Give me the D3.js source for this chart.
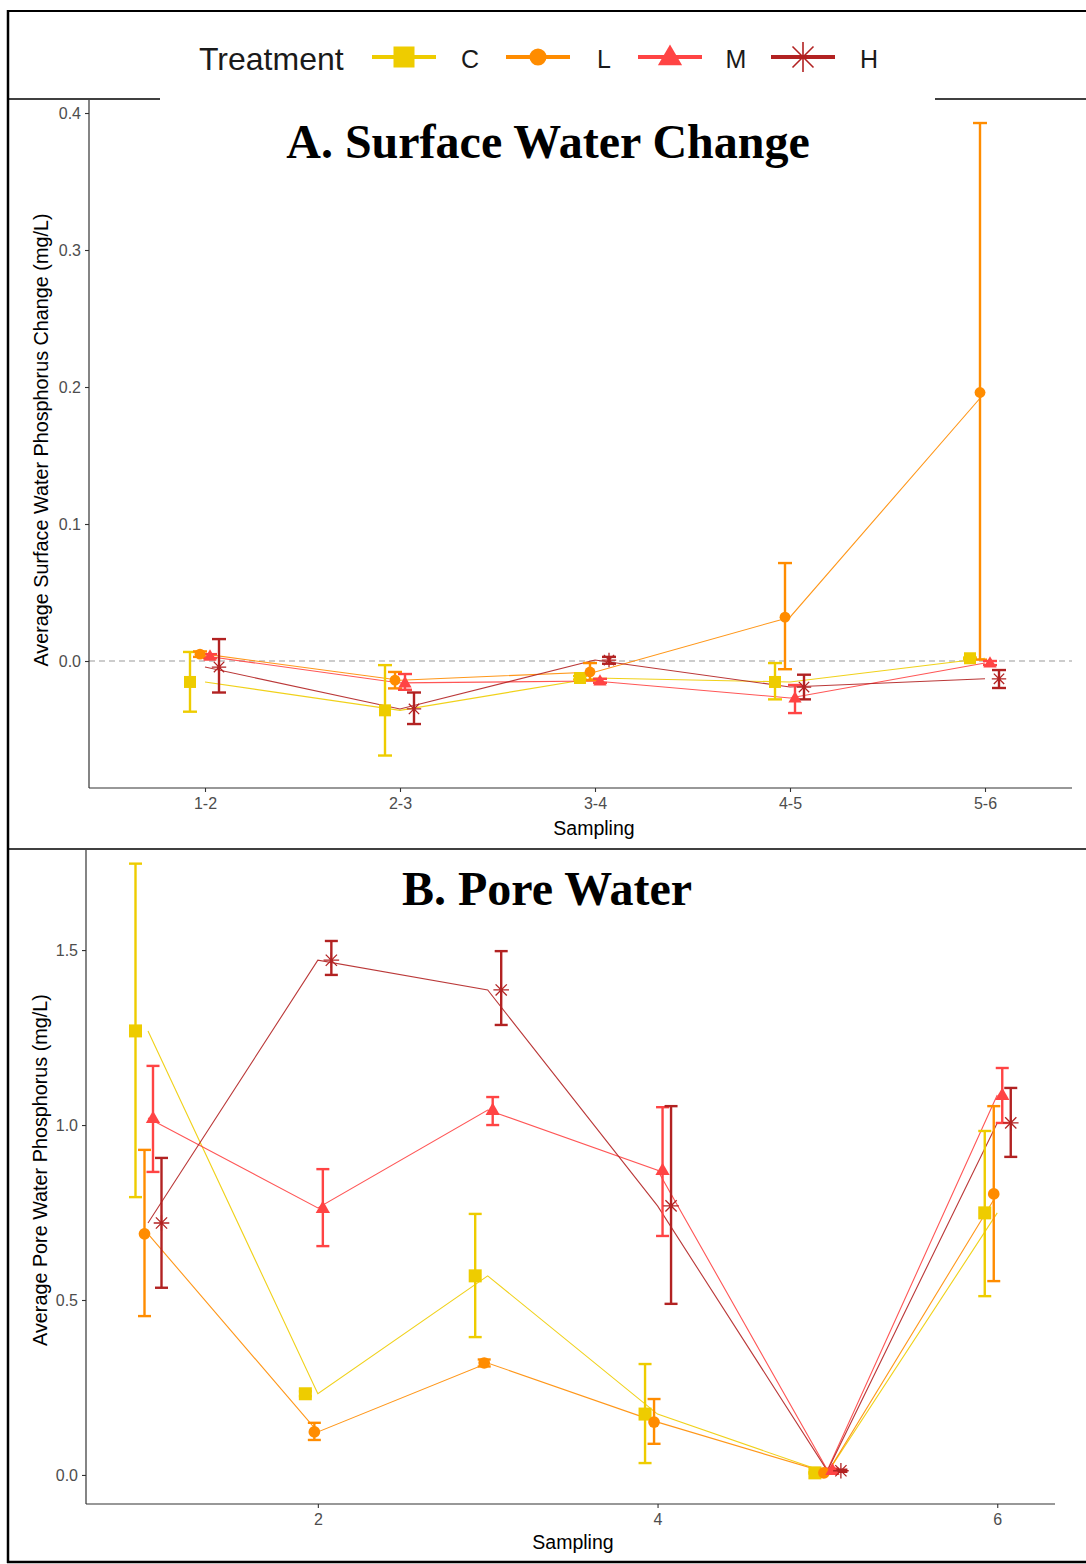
<!DOCTYPE html>
<html>
<head>
<meta charset="utf-8">
<script src="https://cdn.jsdelivr.net/npm/d3@7"></script>
<style>
  body { margin: 0; background: #fff; }
  text { font-family: "Liberation Sans", Arial, sans-serif; }
</style>
</head>
<body>
<div id="chart"></div>
<script>
// treatments and colours
const treatments = ["C", "L", "M", "H"];

// A. surface water change (mg/L), per sampling interval
const samplingA = ["1-2", "2-3", "3-4", "4-5", "5-6"];
const surfC    = [-0.0153, -0.036, -0.0124, -0.0153, 0.002];
const surfC_lo = [-0.037, -0.069, -0.0135, -0.028, 0.0015];
const surfC_hi = [0.0066, -0.003, -0.011, -0.0015, 0.0025];
const surfL    = [0.005, -0.014, -0.008, 0.032, 0.196];
const surfL_lo = [0.003, -0.020, -0.014, -0.006, 0.001];
const surfL_hi = [0.007, -0.008, -0.0015, 0.0715, 0.3927];
const surfM    = [0.0036, -0.016, -0.0146, -0.027, -0.0015];
const surfM_lo = [0.002, -0.021, -0.016, -0.038, -0.003];
const surfM_hi = [0.005, -0.0095, -0.013, -0.0175, 0.0];
const surfH    = [-0.0044, -0.035, 0.0007, -0.019, -0.013];
const surfH_lo = [-0.023, -0.046, -0.002, -0.028, -0.0197];
const surfH_hi = [0.016, -0.023, 0.003, -0.010, -0.0066];

// B. pore water phosphorus (mg/L), per sampling
const samplingB = [1, 2, 3, 4, 5, 6];
const poreC    = [1.269, 0.232, 0.569, 0.174, 0.006, 0.749];
const poreC_lo = [0.794, 0.225, 0.394, 0.034, 0.004, 0.511];
const poreC_hi = [1.747, 0.239, 0.746, 0.317, 0.008, 0.983];
const poreL    = [0.689, 0.123, 0.320, 0.151, 0.006, 0.803];
const poreL_lo = [0.454, 0.100, 0.310, 0.089, 0.004, 0.554];
const poreL_hi = [0.929, 0.149, 0.330, 0.217, 0.008, 1.054];
const poreM    = [1.020, 0.763, 1.043, 0.871, 0.014, 1.086];
const poreM_lo = [0.866, 0.654, 1.000, 0.683, 0.010, 1.006];
const poreM_hi = [1.169, 0.874, 1.080, 1.051, 0.018, 1.163];
const poreH    = [0.720, 1.471, 1.386, 0.769, 0.012, 1.006];
const poreH_lo = [0.535, 1.429, 1.286, 0.489, 0.009, 0.909];
const poreH_hi = [0.906, 1.526, 1.497, 1.054, 0.015, 1.106];

const yTicksA = [0, 0.1, 0.2, 0.3, 0.4];
const yTicksB = [0, 0.5, 1.0, 1.5];
const xTicksB = [2, 4, 6];

const color = { C: "#eecc00", L: "#ff8c00", M: "#ff4444", H: "#b22222" };

function makeSeries(x, means, los, his) {
  return treatments.map((t, k) => ({
    key: t,
    pts: x.map((v, i) => ({ x: v, y: means[k][i], lo: los[k][i], hi: his[k][i] }))
  }));
}
const seriesA = makeSeries(samplingA, [surfC, surfL, surfM, surfH],
  [surfC_lo, surfL_lo, surfM_lo, surfH_lo], [surfC_hi, surfL_hi, surfM_hi, surfH_hi]);
const seriesB = makeSeries(samplingB, [poreC, poreL, poreM, poreH],
  [poreC_lo, poreL_lo, poreM_lo, poreH_lo], [poreC_hi, poreL_hi, poreM_hi, poreH_hi]);

const W = 1086, H = 1564;
const svg = d3.select("#chart").append("svg").attr("width", W).attr("height", H);

// marker drawing (ggplot shapes 15, 16, 17, 8)
function marker(g, key, cx, cy, s) {
  const c = color[key];
  if (key === "C") {
    g.append("rect").attr("x", cx - s / 2).attr("y", cy - s / 2)
      .attr("width", s).attr("height", s).attr("fill", c);
  } else if (key === "L") {
    g.append("circle").attr("cx", cx).attr("cy", cy).attr("r", s * 0.45).attr("fill", c);
  } else if (key === "M") {
    const h = s * 0.95, w = s * 1.1;
    g.append("path").attr("d", `M${cx},${cy - h * 0.6}L${cx + w / 2},${cy + h * 0.4}L${cx - w / 2},${cy + h * 0.4}Z`)
      .attr("fill", c);
  } else {
    const r = s * 0.6, d = r * 0.72;
    g.append("path")
      .attr("d", `M${cx - r},${cy}H${cx + r}M${cx},${cy - r}V${cy + r}M${cx - d},${cy - d}L${cx + d},${cy + d}M${cx - d},${cy + d}L${cx + d},${cy - d}`)
      .attr("stroke", c).attr("stroke-width", 1.3).attr("fill", "none");
  }
}

function drawPanel(opt) {
  const { x, y, series, dodge, cap, size, xLeft, xRight, yTop, yBottom } = opt;
  const g = svg.append("g");

  if (opt.zeroLine) {
    g.append("line").attr("x1", xLeft).attr("x2", xRight)
      .attr("y1", y(0)).attr("y2", y(0))
      .attr("stroke", "#9a9a9a").attr("stroke-width", 1.1).attr("stroke-dasharray", "6,4");
  }

  // connecting lines (not dodged)
  const line = d3.line().x(d => x(d.x)).y(d => y(d.y));
  series.forEach(s => {
    g.append("path").datum(s.pts).attr("d", line)
      .attr("fill", "none").attr("stroke", color[s.key]).attr("stroke-width", 1.1).attr("opacity", 0.9);
  });

  // error bars (dodged)
  series.forEach((s, k) => {
    const off = dodge[k];
    s.pts.forEach(p => {
      const cx = x(p.x) + off;
      const eg = g.append("g").attr("stroke", color[s.key]).attr("stroke-width", 2.4);
      eg.append("line").attr("x1", cx).attr("x2", cx).attr("y1", y(p.lo)).attr("y2", y(p.hi));
      eg.append("line").attr("x1", cx - cap / 2).attr("x2", cx + cap / 2).attr("y1", y(p.lo)).attr("y2", y(p.lo));
      eg.append("line").attr("x1", cx - cap / 2).attr("x2", cx + cap / 2).attr("y1", y(p.hi)).attr("y2", y(p.hi));
    });
  });

  // points
  series.forEach((s, k) => {
    s.pts.forEach(p => marker(g, s.key, x(p.x) + dodge[k], y(p.y), size));
  });

  // axes
  const yAxis = g.append("g").attr("transform", `translate(${xLeft},0)`)
    .call(d3.axisLeft(y).tickValues(opt.yTicks).tickFormat(d3.format(".1f")).tickSize(4).tickPadding(4));
  const xAxis = g.append("g").attr("transform", `translate(0,${yBottom})`)
    .call(opt.xAxis.tickSize(4).tickPadding(6));
  [yAxis, xAxis].forEach(a => {
    a.select(".domain").remove();
    a.selectAll(".tick line").attr("stroke", "#333").attr("stroke-width", 1.1);
    a.selectAll(".tick text").attr("fill", "#4d4d4d").style("font-size", "16px")
      .style("font-family", "'Liberation Sans', Arial, sans-serif");
  });
  g.append("line").attr("x1", xLeft).attr("x2", xLeft).attr("y1", yTop).attr("y2", yBottom)
    .attr("stroke", "#333").attr("stroke-width", 1.2);
  g.append("line").attr("x1", xLeft).attr("x2", xRight).attr("y1", yBottom).attr("y2", yBottom)
    .attr("stroke", "#333").attr("stroke-width", 1.2);

  // axis titles
  g.append("text").attr("x", opt.xTitlePos[0]).attr("y", opt.xTitlePos[1])
    .attr("text-anchor", "middle").style("font-size", "19.5px").text("Sampling");
  g.append("text").attr("transform", `translate(${opt.yTitlePos[0]},${opt.yTitlePos[1]}) rotate(-90)`)
    .attr("text-anchor", "middle").style("font-size", "19.8px").text(opt.yTitle);

  // panel title
  g.append("text").attr("x", opt.titlePos[0]).attr("y", opt.titlePos[1])
    .attr("text-anchor", "middle")
    .style("font-family", "'Liberation Serif', 'Times New Roman', serif")
    .style("font-weight", "bold").style("font-size", "48px").text(opt.title);
}

// panel A
const xA = d3.scalePoint().domain(samplingA).range([205, 985]);
const yA = d3.scaleLinear().domain([-0.0927, 0.4095]).range([788, 100]);
drawPanel({
  x: xA, y: yA, series: seriesA, dodge: [-15, -5, 5, 14], cap: 14, size: 12,
  xLeft: 89, xRight: 1072, yTop: 100, yBottom: 788, zeroLine: true,
  yTicks: yTicksA, xAxis: d3.axisBottom(xA),
  xTitlePos: [594, 835], yTitlePos: [48, 440],
  yTitle: "Average Surface Water Phosphorus Change (mg/L)",
  title: "A. Surface Water Change", titlePos: [548, 158]
});

// panel B
const xB = d3.scaleLinear().domain([0.635, 6.34]).range([86, 1055]);
const yB = d3.scaleLinear().domain([-0.083, 1.786]).range([1504, 850]);
drawPanel({
  x: xB, y: yB, series: seriesB, dodge: [-12.5, -3.5, 5, 13.5], cap: 13, size: 13,
  xLeft: 86, xRight: 1055, yTop: 850, yBottom: 1504, zeroLine: false,
  yTicks: yTicksB, xAxis: d3.axisBottom(xB).tickValues(xTicksB).tickFormat(d3.format("d")),
  xTitlePos: [573, 1549], yTitlePos: [47, 1170],
  yTitle: "Average Pore Water Phosphorus (mg/L)",
  title: "B. Pore Water", titlePos: [547, 905]
});

// frame lines of the composite figure
const frame = svg.append("g").attr("stroke", "#000");
frame.append("line").attr("x1", 7).attr("x2", W).attr("y1", 11).attr("y2", 11).attr("stroke-width", 2);
frame.append("line").attr("x1", 8).attr("x2", 8).attr("y1", 10).attr("y2", 1563).attr("stroke-width", 2.5);
frame.append("line").attr("x1", 7).attr("x2", 160).attr("y1", 99).attr("y2", 99).attr("stroke-width", 1.6);
frame.append("line").attr("x1", 935).attr("x2", W).attr("y1", 99).attr("y2", 99).attr("stroke-width", 1.6);
frame.append("line").attr("x1", 7).attr("x2", W).attr("y1", 849).attr("y2", 849).attr("stroke-width", 1.6);
frame.append("line").attr("x1", 7).attr("x2", W).attr("y1", 1562).attr("y2", 1562).attr("stroke-width", 2.5);

// legend
const lg = svg.append("g");
lg.append("text").attr("x", 199).attr("y", 70).style("font-size", "32px").attr("fill", "#1a1a1a").text("Treatment");
const keyX = [404, 538, 670, 803];
treatments.forEach((t, i) => {
  const cx = keyX[i];
  lg.append("line").attr("x1", cx - 32).attr("x2", cx + 32).attr("y1", 57).attr("y2", 57)
    .attr("stroke", color[t]).attr("stroke-width", 4);
  if (t === "H") {
    const r = 15, d = 10.5;
    lg.append("path")
      .attr("d", `M${cx},${57 - r}V${57 + r}M${cx - d},${57 - d}L${cx + d},${57 + d}M${cx - d},${57 + d}L${cx + d},${57 - d}`)
      .attr("stroke", color[t]).attr("stroke-width", 1.6).attr("fill", "none");
  } else {
    marker(lg, t, cx, 57, t === "C" ? 21 : t === "L" ? 19 : 22);
  }
  lg.append("text").attr("x", cx + 66).attr("y", 68).attr("text-anchor", "middle")
    .style("font-size", "25px").attr("fill", "#1a1a1a").text(t);
});
</script>
</body>
</html>
